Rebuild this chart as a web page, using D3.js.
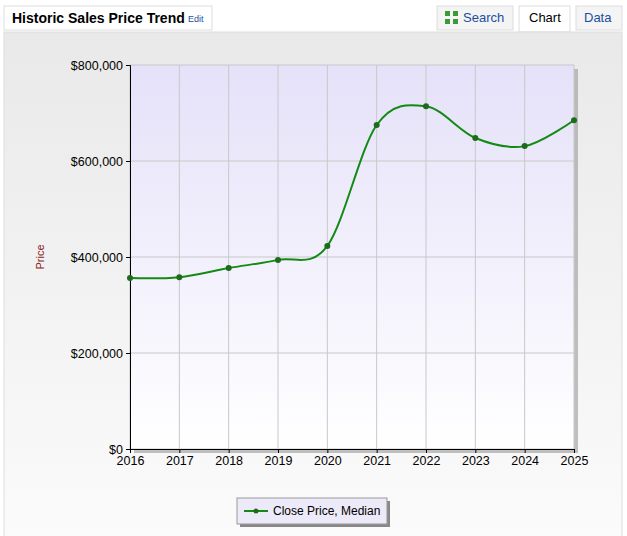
<!DOCTYPE html>
<html><head><meta charset="utf-8">
<script src="https://cdn.jsdelivr.net/npm/d3@7"></script>
<style>body{margin:0;background:#fff;font-family:Arial,"Liberation Sans",sans-serif}</style>
</head><body><svg id="c" width="627" height="536"></svg>
<script>
const years = [2016,2017,2018,2019,2020,2021,2022,2023,2024,2025];
const medianPrice = [356000,358000,377000,394000,423000,675000,714000,648000,631000,685000];
const yTicks = [0,200000,400000,600000,800000];
const seriesName = "Close Price, Median";

const svg = d3.select("#c");
const defs = svg.append("defs");
const pg = defs.append("linearGradient").attr("id","pg").attr("x1",0).attr("y1",0).attr("x2",0).attr("y2",1);
pg.append("stop").attr("offset","0").attr("stop-color","#e5e1f9");
pg.append("stop").attr("offset","1").attr("stop-color","#ffffff");
const bg = defs.append("linearGradient").attr("id","bg").attr("x1",0).attr("y1",0).attr("x2",0).attr("y2",1);
bg.append("stop").attr("offset","0").attr("stop-color","#e9e9e9");
bg.append("stop").attr("offset","1").attr("stop-color","#fbfbfb");

svg.append("rect").attr("x",4).attr("y",6).attr("width",208).attr("height",24).attr("fill","#fff").attr("stroke","#ddd");
svg.append("text").attr("x",12).attr("y",23).attr("font-size",14).attr("font-weight","bold").text("Historic Sales Price Trend");
svg.append("text").attr("x",188).attr("y",22).attr("font-size",9).attr("fill","#1a4fa0").text("Edit");
svg.append("rect").attr("x",437).attr("y",6).attr("width",76).attr("height",24).attr("fill","#f4f4f4").attr("stroke","#ddd");
const ic = svg.append("g").attr("fill","#3a9a3a");
[[445,11],[453,11],[445,19],[453,19]].forEach(p=>ic.append("rect").attr("x",p[0]).attr("y",p[1]).attr("width",5).attr("height",5));
svg.append("text").attr("x",463).attr("y",22).attr("font-size",13).attr("fill","#1a4fa0").text("Search");
svg.append("rect").attr("x",519).attr("y",6).attr("width",51).attr("height",26).attr("fill","#fff").attr("stroke","#ddd");
svg.append("text").attr("x",529).attr("y",22).attr("font-size",13).text("Chart");
svg.append("rect").attr("x",576).attr("y",6).attr("width",46).attr("height",24).attr("fill","#f4f4f4").attr("stroke","#ddd");
svg.append("text").attr("x",584).attr("y",22).attr("font-size",13).attr("fill","#1a4fa0").text("Data");
svg.append("rect").attr("x",4).attr("y",32).attr("width",618).attr("height",510).attr("fill","url(#bg)").attr("stroke","#ddd");

const m = {l:130,r:574,t:65,b:449};
const x = d3.scaleLinear().domain([2016,2025]).range([m.l,m.r]);
const y = d3.scaleLinear().domain([0,800000]).range([m.b,m.t]);

svg.append("rect").attr("x",m.l+4).attr("y",m.t+4).attr("width",m.r-m.l).attr("height",m.b-m.t).attr("fill","#999").attr("opacity",0.6);
svg.append("rect").attr("x",m.l).attr("y",m.t).attr("width",m.r-m.l).attr("height",m.b-m.t).attr("fill","url(#pg)");

const g = svg.append("g");
g.selectAll(".vg").data(years).join("line").attr("x1",d=>x(d)).attr("x2",d=>x(d)).attr("y1",m.t).attr("y2",m.b).attr("stroke","#c8c8c8");
g.selectAll(".hg").data(yTicks).join("line").attr("x1",m.l).attr("x2",m.r).attr("y1",d=>y(d)).attr("y2",d=>y(d)).attr("stroke","#c8c8c8");

const xa = svg.append("g").attr("transform",`translate(0,${m.b})`).call(d3.axisBottom(x).tickValues(years).tickFormat(d3.format("d")).tickSize(4));
const ya = svg.append("g").attr("transform",`translate(${m.l},0)`).call(d3.axisLeft(y).tickValues(yTicks).tickFormat(d=>"$"+d3.format(",")(d)).tickSize(4));
[xa,ya].forEach(a=>{a.selectAll("text").attr("font-size",12.5).attr("fill","#000").attr("font-family","Arial,Liberation Sans");a.select(".domain").attr("stroke","#000");});
svg.append("text").attr("transform","translate(44,257) rotate(-90)").attr("text-anchor","middle").attr("font-size",11).attr("fill","#8b1a1a").text("Price");

const pts = years.map((d,i)=>[x(d),y(medianPrice[i])]);
svg.append("path").attr("d",d3.line().curve(d3.curveCatmullRom.alpha(0))(pts)).attr("fill","none").attr("stroke","#138a13").attr("stroke-width",2);
svg.selectAll(".pt").data(pts).join("circle").attr("cx",d=>d[0]).attr("cy",d=>d[1]).attr("r",3).attr("fill","#1d6b1d");

svg.append("rect").attr("x",240).attr("y",501).attr("width",150).attr("height",26).attr("fill","#888");
svg.append("rect").attr("x",237).attr("y",498).attr("width",150).attr("height",26).attr("fill","#ece9f8").attr("stroke","#999");
svg.append("line").attr("x1",244).attr("x2",268).attr("y1",511).attr("y2",511).attr("stroke","#138a13").attr("stroke-width",2);
svg.append("circle").attr("cx",256).attr("cy",511).attr("r",2.5).attr("fill","#1d6b1d");
svg.append("text").attr("x",273).attr("y",515).attr("font-size",12).text(seriesName);
</script></body></html>
